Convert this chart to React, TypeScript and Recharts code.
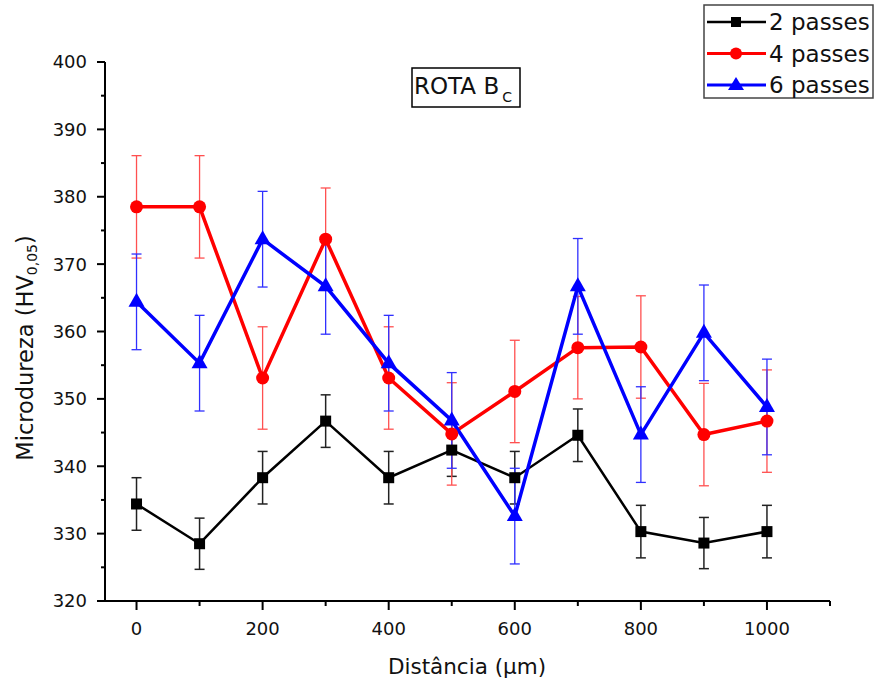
import React from 'react';
import { LineChart, Line, XAxis, YAxis, ErrorBar } from 'recharts';

const distances = [0, 100, 200, 300, 400, 500, 600, 700, 800, 900, 1000];
const hv2 = [334.4, 328.5, 338.3, 346.7, 338.3, 342.4, 338.3, 344.6, 330.3, 328.6, 330.3];
const err2 = [3.9, 3.8, 3.9, 3.9, 3.9, 3.9, 3.9, 3.9, 3.9, 3.8, 3.9];
const hv4 = [378.5, 378.5, 353.1, 373.7, 353.1, 344.8, 351.1, 357.6, 357.7, 344.7, 346.7];
const err4 = [7.6, 7.6, 7.6, 7.6, 7.6, 7.6, 7.6, 7.6, 7.6, 7.6, 7.6];
const hv6 = [364.4, 355.3, 373.7, 366.7, 355.3, 346.8, 332.6, 366.7, 344.7, 359.8, 348.8];
const err6 = [7.1, 7.1, 7.1, 7.1, 7.1, 7.1, 7.1, 7.1, 7.1, 7.1, 7.1];

const xTicks = [0, 100, 200, 300, 400, 500, 600, 700, 800, 900, 1000, 1100];
const xLabels = [0, 200, 400, 600, 800, 1000];
const yTicks = [320, 325, 330, 335, 340, 345, 350, 355, 360, 365, 370, 375, 380, 385, 390, 395, 400];
const yLabels = [320, 330, 340, 350, 360, 370, 380, 390, 400];
const seriesNames = ['2 passes', '4 passes', '6 passes'];
const seriesColors = ['#000000', '#ff0000', '#0000ff'];

const data = distances.map((d, i) => ({
  x: d,
  s2: hv2[i], e2: err2[i],
  s4: hv4[i], e4: err4[i],
  s6: hv6[i], e6: err6[i],
}));

const FONT = '"DejaVu Sans", Arial, sans-serif';

const XTick = (props: any) => {
  const { x, y, payload } = props;
  const major = xLabels.includes(payload.value);
  return (
    <g>
      <line x1={x} x2={x} y1={y} y2={y + (major ? 9 : 5)} stroke="#000" strokeWidth={2} />
      {major && (
        <text x={x} y={y + 34} textAnchor="middle" fontFamily={FONT} fontSize={18} fill="#111">
          {payload.value}
        </text>
      )}
    </g>
  );
};

const YTick = (props: any) => {
  const { x, y, payload } = props;
  const major = yLabels.includes(payload.value);
  return (
    <g>
      <line x1={x - (major ? 8 : 4)} x2={x} y1={y} y2={y} stroke="#000" strokeWidth={2} />
      {major && (
        <text x={x - 18} y={y} dy="0.36em" textAnchor="end" fontFamily={FONT} fontSize={18} fill="#111">
          {payload.value}
        </text>
      )}
    </g>
  );
};

const SquareDot = (props: any) => {
  const { cx, cy, index } = props;
  return <rect key={`sq-${index}`} x={cx - 5.5} y={cy - 5.5} width={11} height={11} fill="#000" />;
};
const CircleDot = (props: any) => {
  const { cx, cy, index } = props;
  return <circle key={`ci-${index}`} cx={cx} cy={cy} r={6.5} fill="#ff0000" />;
};
const TriDot = (props: any) => {
  const { cx, cy, index } = props;
  return (
    <polygon
      key={`tr-${index}`}
      points={`${cx},${cy - 9} ${cx - 8},${cy + 5} ${cx + 8},${cy + 5}`}
      fill="#0000ff"
    />
  );
};

const YTitle = () => (
  <text
    x={33}
    y={348}
    transform="rotate(-90 33 348)"
    textAnchor="middle"
    fontFamily={FONT}
    fontSize={22.5}
    fill="#111"
  >
    Microdureza (HV
    <tspan fontSize={14} dy={4}>0,05</tspan>
    <tspan dy={-4}>)</tspan>
  </text>
);

const XTitle = () => (
  <text x={467} y={674} textAnchor="middle" fontFamily={FONT} fontSize={21.5} fill="#111">
    Distância (μm)
  </text>
);

const legendMarker = (i: number, cx: number, cy: number) => {
  if (i === 0) return <rect x={cx - 5} y={cy - 5} width={10} height={10} fill="#000" />;
  if (i === 1) return <circle cx={cx} cy={cy} r={6} fill="#ff0000" />;
  return <polygon points={`${cx},${cy - 8} ${cx - 8},${cy + 5} ${cx + 8},${cy + 5}`} fill="#0000ff" />;
};

export default function App() {
  return (
    <div style={{ position: 'absolute', left: 0, top: 0, width: 876, height: 681, background: '#fff' }}>
      <LineChart
        width={876}
        height={681}
        data={data}
        margin={{ top: 62, right: 46, bottom: 30, left: 45 }}
      >
        <XAxis
          dataKey="x"
          type="number"
          domain={[-50, 1100]}
          ticks={xTicks}
          interval={0}
          tickSize={0}
          tickMargin={0}
          tickLine={false}
          tick={<XTick />}
          height={50}
          axisLine={{ stroke: '#000', strokeWidth: 2 }}
          label={<XTitle />}
        />
        <YAxis
          type="number"
          domain={[320, 400]}
          ticks={yTicks}
          interval={0}
          tickSize={0}
          tickMargin={0}
          tickLine={false}
          tick={<YTick />}
          width={60}
          axisLine={{ stroke: '#000', strokeWidth: 2 }}
          label={<YTitle />}
        />
        <Line
          dataKey="s2"
          name={seriesNames[0]}
          type="linear"
          stroke={seriesColors[0]}
          strokeWidth={2.5}
          dot={SquareDot}
          activeDot={false}
          isAnimationActive={false}
        >
          <ErrorBar dataKey="e2" direction="y" width={5} stroke="#222" strokeWidth={1.5} />
        </Line>
        <Line
          dataKey="s4"
          name={seriesNames[1]}
          type="linear"
          stroke={seriesColors[1]}
          strokeWidth={3.5}
          dot={CircleDot}
          activeDot={false}
          isAnimationActive={false}
        >
          <ErrorBar dataKey="e4" direction="y" width={5} stroke="#ff5050" strokeWidth={1.3} />
        </Line>
        <Line
          dataKey="s6"
          name={seriesNames[2]}
          type="linear"
          stroke={seriesColors[2]}
          strokeWidth={3.5}
          dot={TriDot}
          activeDot={false}
          isAnimationActive={false}
        >
          <ErrorBar dataKey="e6" direction="y" width={5} stroke="#3030ff" strokeWidth={1.3} />
        </Line>
      </LineChart>
      <svg width={876} height={681} style={{ position: 'absolute', left: 0, top: 0, pointerEvents: 'none' }}>
        <rect x={412} y={68} width={108} height={39} fill="#fff" stroke="#000" strokeWidth={1.5} />
        <text x={414} y={94} fontFamily={FONT} fontSize={23} fill="#111">
          ROTA B
          <tspan fontSize={14} dx={3} dy={8}>C</tspan>
        </text>
        <rect x={704} y={5} width={169} height={93} fill="#fff" stroke="#444" strokeWidth={1.5} />
        {seriesNames.map((name, i) => {
          const cy = 22 + i * 31.5;
          return (
            <g key={name}>
              <line x1={707} x2={766} y1={cy} y2={cy} stroke={seriesColors[i]} strokeWidth={i === 0 ? 2.5 : 3} />
              {legendMarker(i, 736, cy)}
              <text x={769} y={cy + 8} fontFamily={FONT} fontSize={23} fill="#111">
                {name}
              </text>
            </g>
          );
        })}
      </svg>
    </div>
  );
}
